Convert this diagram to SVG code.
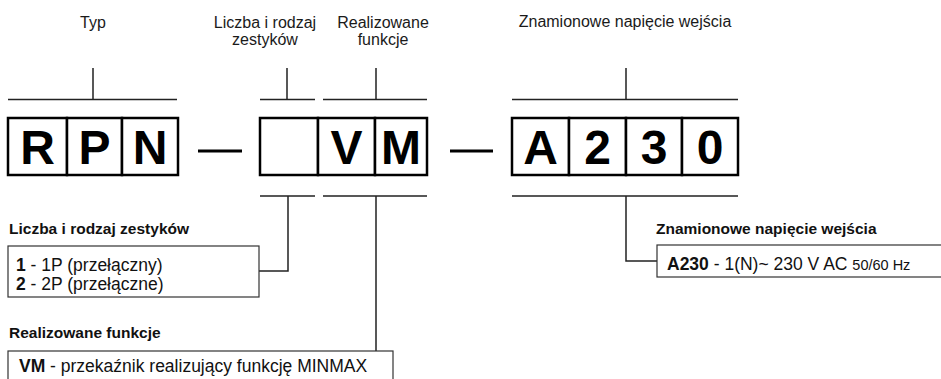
<svg xmlns="http://www.w3.org/2000/svg" width="941" height="379" viewBox="0 0 941 379">
<style>
.lbl{font-family:"Liberation Sans",Arial,sans-serif;font-size:16px;fill:#1a1a1a;text-anchor:middle}
.big{font-family:"Liberation Sans",Arial,sans-serif;font-size:48px;font-weight:bold;fill:#000;text-anchor:middle}
.ttl{font-family:"Liberation Sans",Arial,sans-serif;font-size:15.5px;font-weight:bold;fill:#111}
.txt{font-family:"Liberation Sans",Arial,sans-serif;font-size:17.5px;fill:#111}
.cell{fill:#fff;stroke:#000;stroke-width:2.5}
.lead{stroke:#222;stroke-width:1.5;fill:none}
.info{fill:#fff;stroke:#333;stroke-width:1.2}
.dash{stroke:#000;stroke-width:3}
</style>
<g id="connectors">
<path class="lead" d="M8,99.5H177M93,68V99.5"/>
<path class="lead" d="M260,99.5H315M287,68V99.5"/>
<path class="lead" d="M323,99.5H427M376,68V99.5"/>
<path class="lead" d="M512,99.5H738M626,68V99.5"/>
<path class="lead" d="M260,196H315M288,196V271H259"/>
<path class="lead" d="M323,196H427M376,196V351"/>
<path class="lead" d="M512,196H738M626,196V261H657"/>
<line class="dash" x1="198" y1="151" x2="242" y2="151"/>
<line class="dash" x1="450" y1="151" x2="493" y2="151"/>
</g>
<g id="labels">
<text class="lbl" x="93" y="28">Typ</text>
<text class="lbl" x="265" y="28">Liczba i rodzaj</text>
<text class="lbl" x="265" y="45">zestyków</text>
<text class="lbl" x="383" y="28">Realizowane</text>
<text class="lbl" x="383" y="45">funkcje</text>
<text class="lbl" x="625" y="27">Znamionowe napięcie wejścia</text>
</g>
<g id="typ">
<rect class="cell" x="8" y="118" width="59" height="57"/>
<rect class="cell" x="67" y="118" width="55" height="57"/>
<rect class="cell" x="122" y="118" width="56" height="57"/>
<text class="big" x="37.5" y="164">R</text>
<text class="big" x="94.5" y="164">P</text>
<text class="big" x="150" y="164">N</text>
</g>
<g id="kod">
<rect class="cell" x="260" y="118" width="58" height="57"/>
<rect class="cell" x="318" y="118" width="57" height="57"/>
<rect class="cell" x="375" y="118" width="52" height="57"/>
<text class="big" x="346.5" y="164">V</text>
<text class="big" x="401" y="164">M</text>
</g>
<g id="napiecie">
<rect class="cell" x="512" y="118" width="57" height="57"/>
<rect class="cell" x="569" y="118" width="57" height="57"/>
<rect class="cell" x="626" y="118" width="56" height="57"/>
<rect class="cell" x="682" y="118" width="56" height="57"/>
<text class="big" x="540.5" y="164">A</text>
<text class="big" x="597.5" y="164">2</text>
<text class="big" x="654" y="164">3</text>
<text class="big" x="710" y="164">0</text>
</g>
<g id="zestyki">
<text class="ttl" x="9" y="234">Liczba i rodzaj zestyków</text>
<rect class="info" x="8" y="246" width="251" height="51"/>
<text class="txt" x="16" y="270.5" font-size="17px"><tspan font-weight="bold">1</tspan> - 1P (przełączny)</text>
<text class="txt" x="16" y="290" font-size="17px"><tspan font-weight="bold">2</tspan> - 2P (przełączne)</text>
</g>
<g id="funkcje">
<text class="ttl" x="9" y="338">Realizowane funkcje</text>
<rect class="info" x="8" y="351" width="385" height="40"/>
<text class="txt" x="19" y="372"><tspan font-weight="bold">VM</tspan> - przekaźnik realizujący funkcję MINMAX</text>
</g>
<g id="napiecie-info">
<text class="ttl" x="656" y="234">Znamionowe napięcie wejścia</text>
<rect class="info" x="657" y="245" width="300" height="32"/>
<text class="txt" x="667" y="270"><tspan font-weight="bold">A230</tspan> - 1(N)~ 230 V AC <tspan font-size="14.5px">50/60 Hz</tspan></text>
</g>
</svg>
